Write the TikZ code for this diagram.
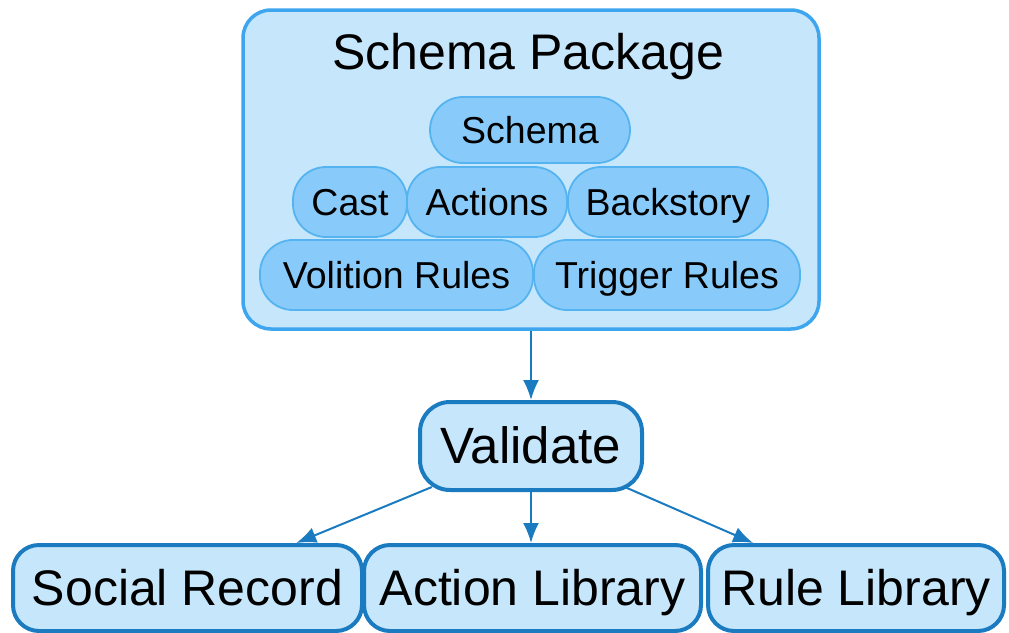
\documentclass[tikz,border=0pt]{standalone}
\usepackage{fontspec}
\setmainfont{Liberation Sans}
\usetikzlibrary{arrows.meta}
\definecolor{pkgfill}{HTML}{C6E6FB}
\definecolor{pkgline}{HTML}{3DA6EF}
\definecolor{innerfill}{HTML}{88CBFA}
\definecolor{innerline}{HTML}{55B4F0}
\definecolor{darkline}{HTML}{1B7BC1}
\tikzset{
  pkgbox/.style={draw=pkgline, fill=pkgfill, line width=3.5pt, rounded corners=28pt, inner sep=0pt},
  innerbox/.style={draw=innerline, fill=innerfill, line width=1.8pt, rounded corners=33pt, inner sep=0pt, minimum height=70pt, font=\fontsize{37.5}{44}\selectfont, text height=26pt, text depth=0pt},
  mainbox/.style={draw=darkline, fill=pkgfill, line width=4pt, rounded corners=26pt, inner sep=0pt, font=\fontsize{50}{60}\selectfont, text height=35pt, text depth=0pt},
  flow/.style={draw=darkline, line width=2pt, -{Latex[length=20pt,width=16pt]}}
}
\begin{document}
\begin{tikzpicture}[x=1pt,y=-1pt]
\useasboundingbox (0,0) rectangle (1009,632);
\node[pkgbox, minimum width=576pt, minimum height=319pt] (pkg) at (531,169.5) {};
\node[anchor=base, font=\fontsize{50}{60}\selectfont] (title) at (528,69) {Schema Package};
\node[innerbox, minimum width=200pt, minimum height=66pt] (schema) at (530,130) {Schema};
\node[innerbox, minimum width=114pt] (cast) at (350,202) {Cast};
\node[innerbox, minimum width=160pt] (actions) at (487,202) {Actions};
\node[innerbox, minimum width=200pt] (backstory) at (668,202) {Backstory};
\node[innerbox, minimum width=273pt] (volition) at (396.5,275) {Volition Rules};
\node[innerbox, minimum width=266pt] (trigger) at (667,275) {Trigger Rules};
\node[mainbox, minimum width=222pt, minimum height=88pt, rounded corners=30pt, font=\fontsize{51}{60}\selectfont] (val) at (531,446) {Validate};
\node[mainbox, minimum width=349pt, minimum height=86pt] (social) at (187.5,588) {Social Record};
\node[mainbox, minimum width=337pt, minimum height=86pt] (alib) at (532.5,588) {Action Library};
\node[mainbox, minimum width=296pt, minimum height=86pt] (rlib) at (856,588) {Rule Library};
\draw[flow] (pkg) -- (val);
\draw[flow, shorten <=-13pt] (val) -- (social);
\draw[flow] (val) -- (val |- alib.north);
\draw[flow, shorten <=-13pt] (val) -- (rlib);
\end{tikzpicture}
\end{document}
